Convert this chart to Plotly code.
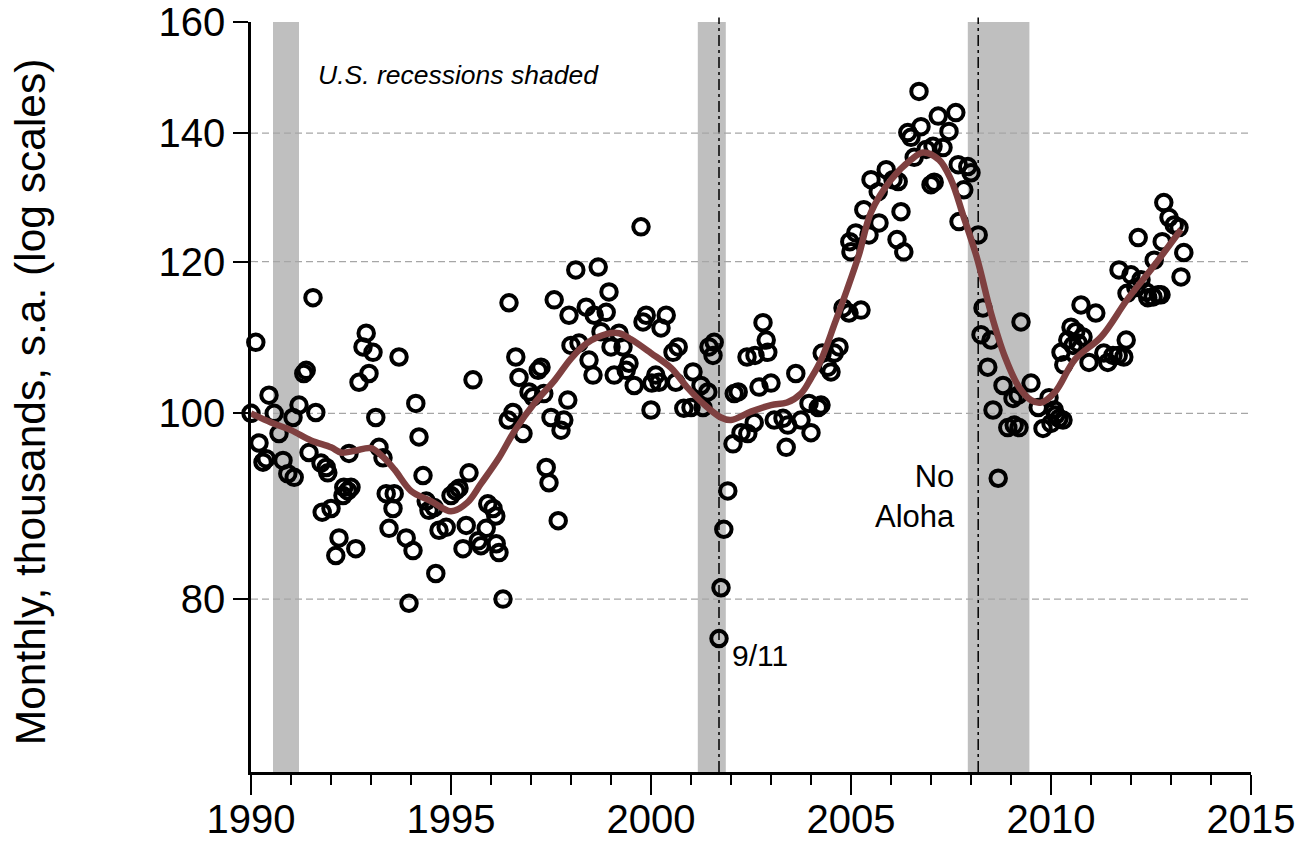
import math
import plotly.graph_objects as go

# ---------------- data ----------------
obs_year = [
    1990.00, 1990.12, 1990.20, 1990.30, 1990.38, 1990.45, 1990.58, 1990.70, 1990.80, 1990.92,
    1991.05, 1991.08, 1991.20, 1991.32, 1991.38, 1991.45, 1991.55, 1991.62, 1991.75, 1991.78,
    1991.88, 1991.92, 1992.00, 1992.12, 1992.20, 1992.30, 1992.32, 1992.42, 1992.45, 1992.50,
    1992.62, 1992.70, 1992.80, 1992.88, 1992.95, 1993.05, 1993.12, 1993.20, 1993.30, 1993.38,
    1993.45, 1993.55, 1993.58, 1993.70, 1993.88, 1993.95, 1994.05, 1994.12, 1994.20, 1994.30,
    1994.38, 1994.45, 1994.58, 1994.62, 1994.70, 1994.88, 1995.00, 1995.12, 1995.20, 1995.30,
    1995.38, 1995.45, 1995.55, 1995.68, 1995.75, 1995.88, 1995.92, 1996.05, 1996.12, 1996.13,
    1996.20, 1996.30, 1996.43, 1996.45, 1996.55, 1996.62, 1996.70, 1996.80, 1996.95, 1997.05,
    1997.18, 1997.25, 1997.32, 1997.38, 1997.45, 1997.50, 1997.58, 1997.68, 1997.75, 1997.82,
    1997.92, 1997.95, 1998.00, 1998.12, 1998.20, 1998.38, 1998.45, 1998.55, 1998.58, 1998.68,
    1998.75, 1998.88, 1998.95, 1999.00, 1999.08, 1999.20, 1999.30, 1999.38, 1999.45, 1999.58,
    1999.75, 1999.80, 1999.88, 2000.00, 2000.02, 2000.12, 2000.20, 2000.25, 2000.38, 2000.55,
    2000.62, 2000.68, 2000.82, 2001.00, 2001.05, 2001.25, 2001.30, 2001.42, 2001.45, 2001.55,
    2001.58, 2001.70, 2001.75, 2001.82, 2001.92, 2002.05, 2002.08, 2002.18, 2002.25, 2002.40,
    2002.42, 2002.58, 2002.60, 2002.70, 2002.80, 2002.88, 2002.92, 2003.00, 2003.08, 2003.30,
    2003.38, 2003.42, 2003.62, 2003.75, 2003.95, 2004.00, 2004.18, 2004.25, 2004.28, 2004.42,
    2004.50, 2004.58, 2004.70, 2004.80, 2004.95, 2004.97, 2005.00, 2005.12, 2005.25, 2005.32,
    2005.45, 2005.50, 2005.68, 2005.70, 2005.88, 2006.05, 2006.15, 2006.18, 2006.25, 2006.32,
    2006.42, 2006.50, 2006.58, 2006.70, 2006.75, 2006.88, 2007.00, 2007.05, 2007.08, 2007.18,
    2007.30, 2007.45, 2007.62, 2007.68, 2007.70, 2007.82, 2007.92, 2008.00, 2008.18, 2008.25,
    2008.30, 2008.42, 2008.50, 2008.55, 2008.68, 2008.80, 2008.92, 2009.05, 2009.08, 2009.18,
    2009.20, 2009.25, 2009.50, 2009.68, 2009.80, 2009.95, 2010.00, 2010.08, 2010.12, 2010.20,
    2010.25, 2010.30, 2010.32, 2010.42, 2010.50, 2010.55, 2010.62, 2010.68, 2010.75, 2010.80,
    2010.95, 2011.12, 2011.32, 2011.42, 2011.55, 2011.68, 2011.70, 2011.82, 2011.88, 2011.90,
    2012.00, 2012.12, 2012.18, 2012.25, 2012.38, 2012.42, 2012.55, 2012.58, 2012.68, 2012.75,
    2012.78, 2012.82, 2012.95, 2013.08, 2013.20, 2013.25, 2013.32,
]
obs_value = [
    100.0, 108.9, 96.5, 94.3, 94.7, 102.2, 100.0, 97.6, 94.5, 93.0,
    99.5, 92.6, 101.0, 104.9, 105.3, 95.4, 114.9, 100.1, 94.2, 88.8,
    93.7, 93.1, 89.2, 84.3, 86.1, 90.6, 91.5, 91.1, 95.3, 91.5,
    85.0, 103.8, 108.3, 110.1, 104.9, 107.6, 99.5, 96.0, 94.8, 90.8,
    87.1, 89.2, 90.8, 107.0, 86.1, 79.6, 84.8, 101.2, 97.2, 92.8,
    90.0, 89.0, 89.3, 82.5, 86.9, 87.2, 90.6, 91.1, 91.4, 85.0,
    87.4, 93.1, 104.1, 85.8, 85.3, 87.1, 89.7, 89.2, 88.4, 85.5,
    84.6, 80.0, 99.2, 114.2, 100.1, 107.0, 104.4, 97.6, 102.6, 102.0,
    105.3, 105.7, 102.4, 93.7, 92.0, 99.5, 114.6, 87.9, 98.0, 99.2,
    101.6, 112.5, 108.5, 118.8, 108.8, 113.6, 106.6, 104.7, 112.5, 119.2,
    110.3, 112.9, 115.7, 108.3, 104.7, 110.1, 108.3, 105.3, 106.2, 103.4,
    125.1, 111.6, 112.5, 100.4, 103.7, 104.7, 103.8, 110.8, 112.5, 107.6,
    103.8, 108.3, 100.6, 100.7, 105.1, 103.4, 100.7, 102.6, 108.3, 107.2,
    108.9, 76.3, 81.1, 87.0, 91.1, 96.4, 102.4, 102.6, 97.7, 107.0,
    97.6, 98.9, 107.2, 103.2, 111.5, 109.2, 107.6, 103.7, 99.2, 99.4,
    96.0, 98.6, 104.9, 99.2, 101.2, 97.7, 100.7, 101.0, 107.5, 105.7,
    105.1, 107.5, 108.3, 113.5, 112.8, 122.9, 121.4, 124.2, 113.2, 127.7,
    123.9, 132.4, 130.5, 125.7, 134.0, 132.4, 123.2, 132.1, 127.4, 121.4,
    140.1, 139.3, 136.0, 147.2, 141.1, 137.3, 131.6, 137.8, 132.0, 142.9,
    137.6, 140.3, 143.5, 134.8, 125.9, 130.8, 134.5, 133.5, 123.9, 109.9,
    113.5, 105.7, 109.2, 100.4, 92.5, 103.4, 98.3, 101.8, 98.6, 102.2,
    98.3, 111.6, 103.7, 100.7, 98.2, 101.9, 98.8, 100.4, 99.8, 99.4,
    107.6, 99.2, 106.0, 109.2, 110.9, 108.5, 110.3, 108.8, 113.9, 109.6,
    106.3, 112.8, 107.5, 106.3, 107.2, 107.2, 118.8, 107.0, 109.2, 115.5,
    118.1, 116.3, 123.5, 117.4, 115.7, 114.9, 115.0, 120.2, 115.3, 115.3,
    122.9, 128.8, 126.5, 125.4, 125.0, 117.8, 121.3,
]

trend_year = [
    1990.0, 1990.5, 1991.0, 1991.5, 1992.0, 1992.25, 1992.6, 1993.0, 1993.3, 1993.6,
    1994.0, 1994.5, 1995.0, 1995.4, 1995.75, 1996.2, 1996.6, 1997.1, 1997.6, 1998.0,
    1998.4, 1998.9, 1999.2, 1999.5, 2000.0, 2000.5, 2000.9, 2001.3, 2001.75, 2002.0,
    2002.5, 2003.0, 2003.4, 2003.75, 2004.0, 2004.25, 2004.6, 2004.9, 2005.2, 2005.5,
    2006.0, 2006.5, 2006.8, 2007.2, 2007.5, 2007.8, 2008.15, 2008.5, 2008.85, 2009.2,
    2009.5, 2009.75, 2010.1, 2010.6, 2011.25, 2011.9, 2012.55, 2013.25,
]
trend_value = [
    100.0, 98.9, 98.0, 96.8, 96.0, 95.4, 95.6, 95.9, 94.9, 93.4,
    91.1, 90.0, 88.9, 89.8, 91.9, 94.8, 98.0, 101.3, 104.1, 106.8,
    108.8, 110.0, 110.1, 109.3, 107.5, 105.6, 103.2, 101.2, 99.5, 99.2,
    100.2, 101.0, 101.3, 102.4, 104.3, 106.6, 111.5, 116.0, 121.0, 127.3,
    132.4, 135.6, 136.8, 135.6, 132.4, 126.9, 120.5, 112.8, 107.0, 103.2,
    101.6, 101.3, 102.6, 106.7, 109.6, 114.6, 119.2, 124.7,
]

recession_start = [1990.55, 2001.17, 2007.92]
recession_end = [1991.2, 2001.87, 2009.46]

event_year = [2001.70, 2008.18]

grid_values = [80, 100, 120, 140]
y_ticks = [80, 100, 120, 140, 160]
x_ticks = [1990, 1995, 2000, 2005, 2010, 2015]

FONT = "Liberation Sans, Arial, sans-serif"

fig = go.Figure()

# gridlines (drawn as lines through the data scales)
for v in grid_values:
    fig.add_trace(go.Scatter(
        x=[1990, 2015], y=[v, v], mode="lines",
        line=dict(color="#a6a6a6", width=1.2, dash="7px,4px"),
        hoverinfo="skip", showlegend=False,
    ))

fig.add_trace(go.Scatter(
    x=obs_year, y=obs_value, mode="markers",
    marker=dict(symbol="circle-open", size=15.5, color="black",
                line=dict(width=4, color="black")),
    cliponaxis=False, showlegend=False,
))

fig.add_trace(go.Scatter(
    x=trend_year, y=trend_value, mode="lines",
    line=dict(color="#7f4040", width=6.5, shape="spline", smoothing=1.0),
    showlegend=False,
))

for s, e in zip(recession_start, recession_end):
    fig.add_shape(type="rect", xref="x", yref="paper", x0=s, x1=e, y0=0, y1=1,
                  fillcolor="#bfbfbf", line=dict(width=0), layer="below")

for ev in event_year:
    fig.add_shape(type="line", xref="x", yref="paper", x0=ev, x1=ev, y0=0, y1=1.006,
                  line=dict(color="black", width=1.5, dash="11px,4px,3px,4px"),
                  layer="below")

fig.add_annotation(text="<i>U.S. recessions shaded</i>", xref="x", yref="paper",
                   x=1991.62, y=0.929, xanchor="left", yanchor="middle",
                   showarrow=False, font=dict(family=FONT, size=26.5, color="black"))
fig.add_annotation(text="9/11", xref="x", yref="paper",
                   x=2001.98, y=0.156, xanchor="left", yanchor="middle",
                   showarrow=False, font=dict(family=FONT, size=30, color="black"))
fig.add_annotation(text="No<br>Aloha", xref="x", yref="paper",
                   x=2007.65, y=0.367, xanchor="right", yanchor="middle", align="right",
                   showarrow=False, font=dict(family=FONT, size=31, color="black"))
fig.add_annotation(text="Monthly, thousands, s.a. (log scales)", xref="paper", yref="paper",
                   x=-0.221, y=0.493, xanchor="center", yanchor="middle", textangle=-90,
                   showarrow=False, font=dict(family=FONT, size=42.5, color="black"))

fig.update_layout(
    width=1301, height=841,
    margin=dict(l=251, r=50, t=22, b=69, autoexpand=False),
    paper_bgcolor="white", plot_bgcolor="white",
    font=dict(family=FONT, color="black"),
    showlegend=False,
    xaxis=dict(
        range=[1990, 2015], tickvals=x_ticks, ticktext=[str(t) for t in x_ticks],
        ticks="outside", ticklen=20, tickwidth=2, tickcolor="black",
        ticklabelstandoff=-10,
        minor=dict(dtick=1, tick0=1990, ticks="outside", ticklen=10, tickwidth=2,
                   tickcolor="black", showgrid=False),
        showline=True, linecolor="black", linewidth=2.5,
        showgrid=False, zeroline=False, automargin=False,
        tickfont=dict(family=FONT, size=40, color="black"),
    ),
    yaxis=dict(
        type="log", range=[math.log10(65), math.log10(160)],
        tickvals=y_ticks, ticktext=[str(t) for t in y_ticks],
        ticks="outside", ticklen=15, tickwidth=2, tickcolor="black",
        showline=True, linecolor="black", linewidth=2.5,
        showgrid=False, zeroline=False, automargin=False,
        tickfont=dict(family=FONT, size=40, color="black"),
    ),
)

fig.write_html("out.html")
